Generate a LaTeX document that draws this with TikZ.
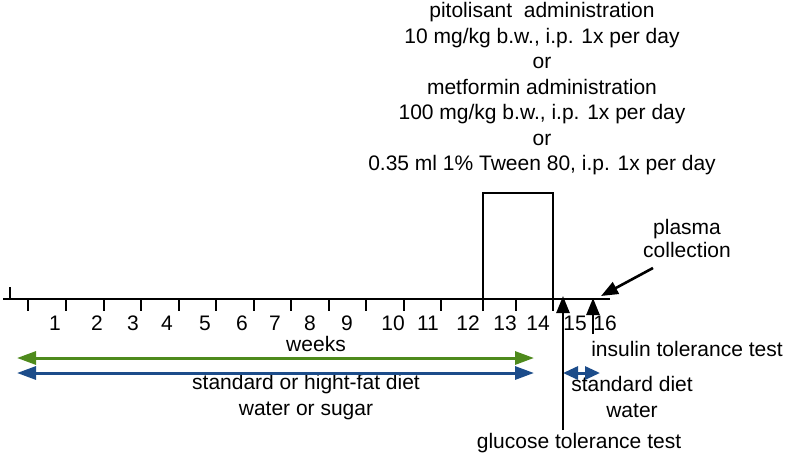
\documentclass[tikz,border=0pt]{standalone}
\usepackage{fontspec}
\setmainfont{Liberation Sans}
\usepackage{xcolor}
\usetikzlibrary{arrows.meta,positioning}

\definecolor{weekgreen}{RGB}{78,138,28}
\definecolor{dietblue}{RGB}{28,76,138}

\begin{document}
\begin{tikzpicture}[
    x=1pt, y=-1pt,
    lbl/.style={inner sep=0pt, align=center, font=\fontsize{21}{26.5}\selectfont},
    num/.style={inner sep=0pt, font=\fontsize{21}{24}\selectfont},
    axis/.style={line width=2.6pt},
    arr/.style={line width=2.6pt, -{Triangle[length=17pt, width=13pt]}},
    span/.style={line width=3pt, {Triangle[length=19pt, width=13pt]}-{Triangle[length=19pt, width=13pt]}}
]
\useasboundingbox (0,0) rectangle (789,455);
% time axis
\coordinate (axL) at (3,299);
\coordinate (axR) at (610,299);
\draw[axis] (axL) -- (axR);
\draw[axis] (10,299) -- (10,287);
\foreach \x in {28,66,104,141,179,216,254,291,329,366,404,441,516}
  \draw[axis] (\x,299) -- (\x,311);
% treatment window
\draw[axis] (483,311) -- (483,193) -- (553,193) -- (553,311);
% week numbers
\foreach \n/\x in {1/55,2/97,3/133,4/167,5/205,6/242,7/275,8/310,9/347,
    10/393,11/428,12/468,13/505,14/538,15/575,16/605}
  \node[num] (w\n) at (\x,323) {\n};
% labels
\node[lbl, font=\fontsize{21}{25.5}\selectfont] (treat) at (542,89)
  {pitolisant\ \ administration\\10 mg/kg b.w., i.p. 1x per day\\or\\metformin administration\\100 mg/kg b.w., i.p. 1x per day\\or\\0.35 ml 1\% Tween 80, i.p. 1x per day};
\node[lbl, font=\fontsize{21}{23}\selectfont] (plasma) at (687,238) {plasma\\collection};
\node[lbl] (weeks) at (316,344) {weeks};
\node[lbl] (diet) at (306,397) {standard or hight-fat diet\\water or sugar};
\node[lbl, font=\fontsize{21}{26}\selectfont] (stdiet) at (632,397) {standard diet\\water};
\node[lbl] (itt) at (687,349) {insulin tolerance test};
\node[lbl] (gtt) at (579,443) {glucose tolerance test};
% periods
\coordinate (gS) at (17,358);
\coordinate (gE) at (534,358);
\coordinate (bS) at (17,373);
\coordinate (bE) at (534,373);
\draw[span, weekgreen] (gS) -- (gE);
\draw[span, dietblue] (bS) -- (bE);
\coordinate (sS) at (563,373);
\coordinate (sE) at (600,373);
\draw[dietblue, line width=3pt, {Triangle[length=15pt, width=13pt]}-{Triangle[length=15pt, width=13pt]}] (sS) -- (sE);
% tests
\coordinate (gttS) at (563,430);
\coordinate (gttTip) at (563,296);
\coordinate (ittS) at (593,334);
\coordinate (ittTip) at (593,298);
\draw[arr] (gttS) -- (gttTip);
\draw[arr] (ittS) -- (ittTip);
\coordinate (plS) at (653,268);
\coordinate (plTip) at (601,296);
\draw[arr] (plS) -- (plTip);
\end{tikzpicture}
\end{document}
